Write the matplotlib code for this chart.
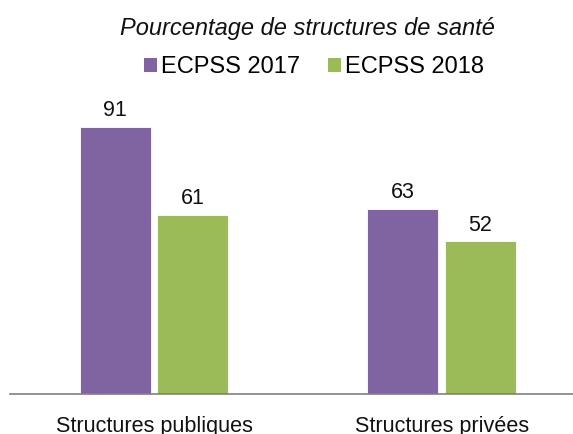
import matplotlib
matplotlib.use("Agg")
import matplotlib.pyplot as plt
from matplotlib.patches import Patch
import numpy as np

plt.rcParams['font.family'] = ['Liberation Sans', 'DejaVu Sans']

categories = ["Structures publiques", "Structures privées"]
series_names = ["ECPSS 2017", "ECPSS 2018"]
values_2017 = [91, 63]
values_2018 = [61, 52]
colors = ["#8064A2", "#9BBB59"]
title = "Pourcentage de structures de santé"

W, H = 573, 434
fig = plt.figure(figsize=(W / 100, H / 100), dpi=100)
ax = fig.add_axes([10 / W, 1 - 394 / H, 1 - 10 / W, (394 - 100.6) / H])

x = np.arange(len(categories))
bw = 0.247
off = 0.135
b1 = ax.bar(x - off, values_2017, bw, color=colors[0], edgecolor="white", linewidth=0.6)
b2 = ax.bar(x + off, values_2018, bw, color=colors[1], edgecolor="white", linewidth=0.6)

for bars, vals in ((b1, values_2017), (b2, values_2018)):
    for r, v in zip(bars, vals):
        ax.text(r.get_x() + r.get_width() / 2, v + 2.0, f"{v}", ha="center", va="bottom",
                fontsize=15.5, color="#111111")

ax.set_xlim(-0.501, 1.457)
ax.set_ylim(0, 100)
for s in ("top", "right", "left"):
    ax.spines[s].set_visible(False)
ax.spines["bottom"].set_color("#808080")
ax.spines["bottom"].set_linewidth(1.2)
ax.set_yticks([])
ax.set_xticks(x)
ax.set_xticklabels(categories, fontsize=15.6, color="#111111")
ax.tick_params(axis="x", length=0, pad=16)

fig.text(307.5 / W, 1 - 28 / H, title, ha="center", va="center", fontsize=17,
         style="italic", color="#111111")

handles = [Patch(facecolor=c, edgecolor="none") for c in colors]
fig.legend(handles, series_names, loc="center", bbox_to_anchor=(314 / W, 1 - 67 / H),
           ncol=2, frameon=False, fontsize=17, handlelength=0.55, handleheight=0.55,
           handletextpad=0.15, columnspacing=1.2, borderpad=0, borderaxespad=0)

fig.savefig("out.png", dpi=100)
